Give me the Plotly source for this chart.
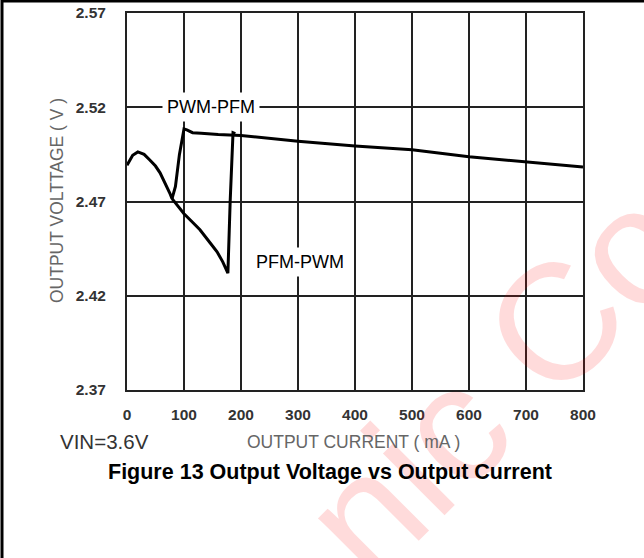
import plotly.graph_objects as go

# Data
pwm_pfm_x = [0, 10, 19, 30, 40, 50, 58, 65, 70, 75, 79, 85, 92, 100, 105, 115, 130, 160, 200, 300, 400, 500, 600, 700, 800]
pwm_pfm_y = [2.4892, 2.4945, 2.4963, 2.4950, 2.4920, 2.4888, 2.4852, 2.4810, 2.4778, 2.4745, 2.4715,
             2.4780, 2.4950, 2.5085, 2.5080, 2.5065, 2.5062, 2.5055, 2.5050, 2.5020, 2.4995, 2.4974,
             2.4937, 2.4910, 2.4883]

pfm_pwm_x = [79, 90, 100, 115, 128, 146, 158, 168, 177, 181, 186, 190]
pfm_pwm_y = [2.4715, 2.4670, 2.4635, 2.4590, 2.4550, 2.4480, 2.4433, 2.4380, 2.4320, 2.4700, 2.5065, 2.5060]

x_ticks = [0, 100, 200, 300, 400, 500, 600, 700, 800]
y_ticks = [2.37, 2.42, 2.47, 2.52, 2.57]
y_tick_text = ["2.37", "2.42", "2.47", "2.52", "2.57"]

W, H = 644, 558
L, R, T, B = 127, 61, 13, 168
pw, ph = W - L - R, H - T - B

def px(xp):
    return (xp - L) / pw

def py(yp):
    return (H - B - yp) / ph

FONT = "Liberation Sans, Arial"

fig = go.Figure()
line_style = dict(color="black", width=3)
fig.add_trace(go.Scatter(x=pwm_pfm_x, y=pwm_pfm_y, mode="lines", line=line_style, showlegend=False))
fig.add_trace(go.Scatter(x=pfm_pwm_x, y=pfm_pwm_y, mode="lines", line=line_style, showlegend=False))

tick_font = dict(family=FONT, size=15.5, color="#333333", weight="bold")
fig.update_xaxes(range=[0, 800], tickvals=x_ticks, showgrid=True, gridcolor="#222222", gridwidth=2,
                 showline=True, linecolor="#222222", linewidth=2, mirror=True, zeroline=False,
                 ticks="", tickfont=tick_font, ticklabelstandoff=9)
fig.update_yaxes(range=[2.37, 2.57], tickvals=y_ticks, ticktext=y_tick_text, showgrid=True,
                 gridcolor="#222222", gridwidth=2, showline=True, linecolor="#222222", linewidth=2,
                 mirror=True, zeroline=False, ticks="", tickfont=tick_font, ticklabelstandoff=16)

ann = []
# watermark
ann.append(dict(text="nic Co", x=px(497), y=py(382), xref="paper", yref="paper", showarrow=False,
                xanchor="center", yanchor="middle", textangle=-45,
                font=dict(family=FONT, size=165, color="rgba(255,0,0,0.14)")))
ann.append(dict(text="PWM-PFM", x=147, y=2.52, xref="x", yref="y", showarrow=False, bgcolor="white",
                xanchor="center", yanchor="middle",
                font=dict(family=FONT, size=18, color="black"), borderpad=4))
ann.append(dict(text="PFM-PWM", x=303, y=2.438, xref="x", yref="y", showarrow=False, bgcolor="white",
                xanchor="center", yanchor="middle",
                font=dict(family=FONT, size=18, color="black"), borderpad=4))
ann.append(dict(text="OUTPUT VOLTTAGE ( V )", x=px(57), y=py(201), xref="paper", yref="paper",
                showarrow=False, textangle=-90, xanchor="center", yanchor="middle",
                font=dict(family=FONT, size=17.5, color="#666666")))
ann.append(dict(text="OUTPUT CURRENT ( mA )", x=px(353), y=py(442), xref="paper", yref="paper",
                showarrow=False, xanchor="center", yanchor="middle",
                font=dict(family=FONT, size=17.5, color="#666666")))
ann.append(dict(text="VIN=3.6V", x=px(104), y=py(441), xref="paper", yref="paper",
                showarrow=False, xanchor="center", yanchor="middle",
                font=dict(family=FONT, size=20.5, color="#333333")))
ann.append(dict(text="<b>Figure 13 Output Voltage vs Output Current</b>", x=px(330), y=py(472),
                xref="paper", yref="paper", showarrow=False, xanchor="center", yanchor="middle",
                font=dict(family=FONT, size=21.5, color="black")))

shapes = [
    dict(type="line", xref="paper", yref="paper", x0=px(2), x1=px(W + 5), y0=py(1), y1=py(1),
         line=dict(color="black", width=3)),
    dict(type="line", xref="paper", yref="paper", x0=px(2), x1=px(2), y0=py(0), y1=py(H + 5),
         line=dict(color="black", width=3)),
]

fig.update_layout(width=W, height=H, margin=dict(l=L, r=R, t=T, b=B, autoexpand=False),
                  plot_bgcolor="white", paper_bgcolor="white", annotations=ann, shapes=shapes)

fig.write_html("out.html", config={"displayModeBar": False},
               post_script="document.body.style.margin='0';document.body.style.overflow='hidden';")
